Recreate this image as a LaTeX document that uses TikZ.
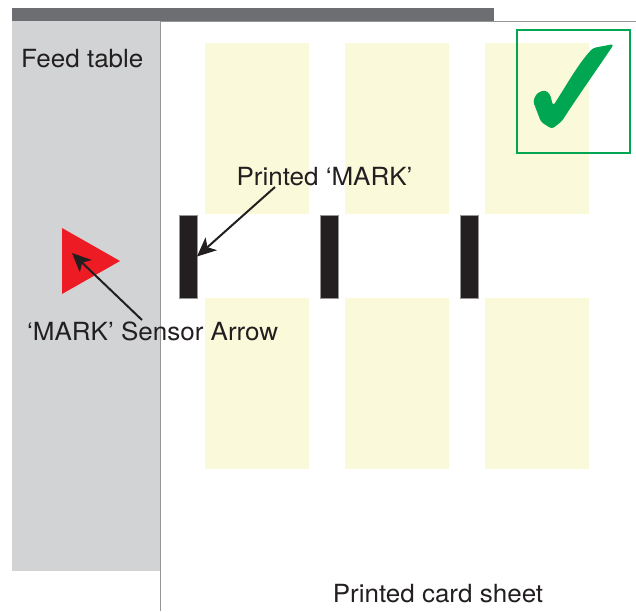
\documentclass[tikz,border=0pt]{standalone}
\usepackage{fontspec}
\setmainfont{TeX Gyre Heros}[FakeStretch=1.04]
\usetikzlibrary{arrows.meta, positioning}
\definecolor{tablegray}{RGB}{209,211,212}
\definecolor{bargray}{RGB}{109,110,113}
\definecolor{edgegray}{RGB}{150,150,153}
\definecolor{cardyellow}{RGB}{250,249,218}
\definecolor{inkblack}{RGB}{35,31,32}
\definecolor{okgreen}{RGB}{0,166,81}
\definecolor{sensorred}{RGB}{237,28,36}

\begin{document}
\begin{tikzpicture}[
    x=1pt, y=-1pt,
    big_text/.style={font=\fontsize{25}{30}\selectfont, text=inkblack, inner sep=0pt},
    card/.style={fill=cardyellow, minimum width=104pt, minimum height=171pt, inner sep=0pt, outer sep=0pt, anchor=north west},
    printmark/.style={fill=inkblack, draw=edgegray, line width=0.5pt, minimum width=18pt, minimum height=83pt, inner sep=0pt, outer sep=0pt, anchor=north west},
    pointer/.style={-{Stealth[length=19pt, width=17pt, inset=5pt]}, draw=inkblack, line width=2pt}
]
    \useasboundingbox (0,0) rectangle (636,611);

    % feed table and sheet
    \fill[bargray] (12,8) rectangle (494,20.5);
    \fill[tablegray] (12,21) rectangle (160,571);
    \draw[edgegray, line width=1pt] (636,21) -- (160.5,21) -- (160.5,611);
    \node[big_text, anchor=base west] (feed) at (21,67) {Feed table};

    % cards on the sheet
    \node[card] (c_tl) at (205,43) {};
    \node[card] (c_tm) at (345,43) {};
    \node[card] (c_tr) at (485,43) {};
    \node[card] (c_bl) at (205,298) {};
    \node[card] (c_bm) at (345,298) {};
    \node[card] (c_br) at (485,298) {};

    % printed marks
    \node[printmark] (m1) at (179,215) {};
    \node[printmark] (m2) at (320,215) {};
    \node[printmark] (m3) at (460,215) {};

    % check box
    \node[draw=okgreen, line width=2pt, minimum width=113pt, minimum height=123pt, inner sep=0pt, anchor=north west] (okbox) at (516,28.5) {};
    \fill[okgreen, rounded corners=3pt] (533,101) -- (537,93) -- (545,90) -- (550,94) -- (553,106)
        .. controls (566,86) and (578,64) .. (593,48) -- (614,44)
        .. controls (598,68) and (578,96) .. (562,121) -- (552,129) -- (541,122) -- cycle;

    % sensor arrow
    \fill[sensorred] (62,228) -- (120,261) -- (62,294) -- cycle;
    \coordinate (sensor_tip) at (72,253);

    % labels
    \node[big_text, anchor=base] (lbl_mark) at (324.5,185) {Printed `MARK'};
    \coordinate (lbl_mark_end) at (275,187);
    \node[big_text, anchor=base west] (lbl_sensor) at (27,340) {`MARK' Sensor Arrow};
    \coordinate (lbl_sensor_end) at (142,320);
    \node[big_text, anchor=base] (lbl_sheet) at (438,602.5) {Printed card sheet};

    \draw[pointer] (lbl_mark_end) -- (m1.east);
    \draw[pointer] (lbl_sensor_end) -- (sensor_tip);
\end{tikzpicture}
\end{document}
